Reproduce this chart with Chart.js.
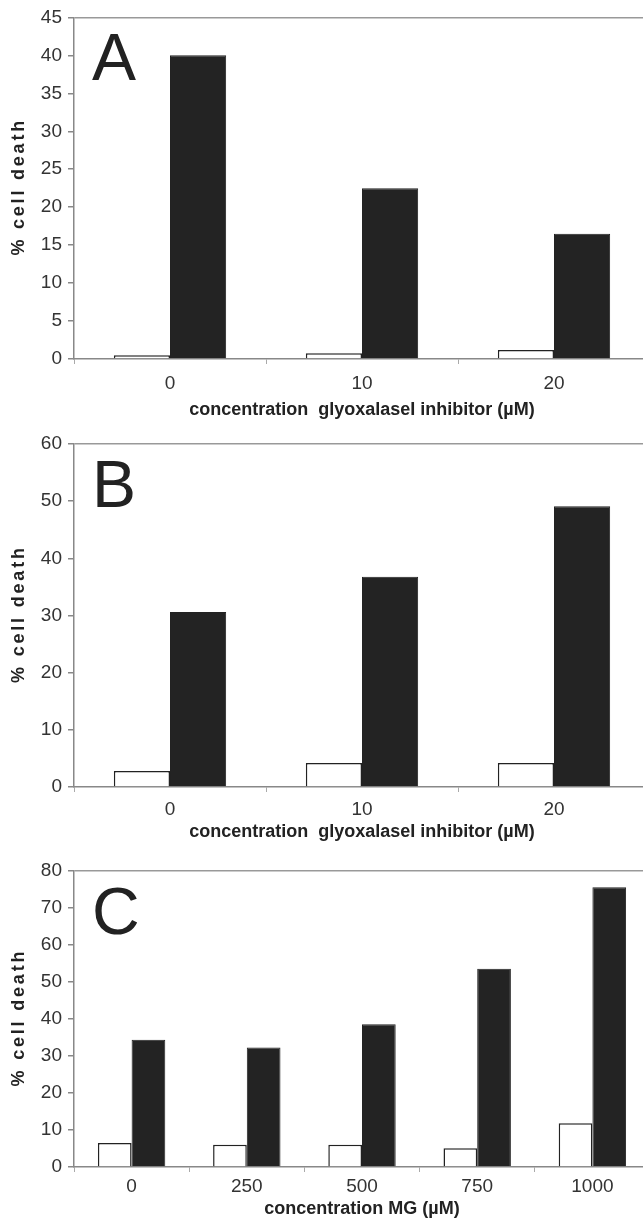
<!DOCTYPE html>
<html lang="en">
<head>
<meta charset="UTF-8">
<title>% cell death</title>
<script src="https://cdn.jsdelivr.net/npm/chart.js"></script>
<style>
    body { margin: 0; background: #fff; }
    #page { width: 643px; height: 1219px; overflow: hidden; }
    canvas { display: block; }
</style>
</head>
<body>
<div id="page">
    <canvas id="chartA" width="652" height="422"></canvas>
    <canvas id="chartB" width="652" height="424"></canvas>
    <canvas id="chartC" width="652" height="373"></canvas>
</div>
<script>
// Panel A
const doseA = ['0', '10', '20'];
const controlA = [0.5, 0.75, 1.2];
const treatedA = [40, 22.5, 16.5];

// Panel B
const doseB = ['0', '10', '20'];
const controlB = [2.8, 4.2, 4.2];
const treatedB = [30.6, 36.8, 49.1];

// Panel C
const doseC = ['0', '250', '500', '750', '1000'];
const controlC = [6.5, 6.0, 6.0, 5.1, 11.8];
const treatedC = [34.4, 32.3, 38.6, 53.6, 75.6];

const yTitle = '% cell death';
const xTitleGlo = 'concentration  glyoxalaseI inhibitor (µM)';
const xTitleMG = 'concentration MG (µM)';

const FONT = '"Liberation Sans", Arial, sans-serif';
Chart.defaults.font.family = FONT;

// panel letter + letter-spaced y title
const panelDecor = {
    id: 'panelDecor',
    afterDraw(chart, args, opts) {
        const {ctx, chartArea} = chart;
        ctx.save();
        ctx.fillStyle = '#222';
        ctx.font = '66px ' + FONT;
        ctx.textAlign = 'left';
        ctx.textBaseline = 'alphabetic';
        ctx.fillText(opts.letter, chartArea.left + 18, chartArea.top + 63);

        ctx.translate(18.7, (chartArea.top + chartArea.bottom) / 2);
        ctx.rotate(-Math.PI / 2);
        ctx.font = 'bold 18px ' + FONT;
        ctx.letterSpacing = '2.8px';
        ctx.textAlign = 'center';
        ctx.textBaseline = 'middle';
        ctx.fillText(opts.yTitle, 1.4, 0);
        ctx.restore();
    }
};

function makePanel(id, labels, control, treated, yMax, yStep, letter, xTitle, top, xHeight, tickPad, titlePad) {
    return new Chart(document.getElementById(id), {
        type: 'bar',
        data: {
            labels: labels,
            datasets: [{
                label: 'control',
                data: control,
                backgroundColor: '#ffffff',
                borderColor: '#222222',
                borderWidth: 1.5,
                categoryPercentage: 0.585,
                barPercentage: 1
            }, {
                label: 'treated',
                data: treated,
                backgroundColor: '#232323',
                borderColor: '#222222',
                borderWidth: 1,
                categoryPercentage: 0.585,
                barPercentage: 1
            }]
        },
        options: {
            responsive: false,
            animation: false,
            devicePixelRatio: 1,
            layout: { padding: { top: top, right: 2, left: 0, bottom: 0 } },
            plugins: {
                legend: { display: false },
                tooltip: { enabled: false },
                panelDecor: { letter: letter, yTitle: yTitle }
            },
            scales: {
                x: {
                    grid: { drawOnChartArea: false, offset: true, tickLength: 5, tickColor: '#aaa' },
                    border: { color: '#888', width: 1.5 },
                    ticks: { color: '#333', font: { size: 19 }, padding: tickPad, maxRotation: 0 },
                    title: {
                        display: true,
                        text: xTitle,
                        color: '#222',
                        font: { size: 18, weight: 'bold' },
                        padding: { top: 0, bottom: titlePad }
                    },
                    afterFit(scale) { scale.height = xHeight; }
                },
                y: {
                    min: 0,
                    max: yMax,
                    grid: {
                        color: c => (c.tick && c.tick.value === yMax) ? '#999' : 'rgba(0,0,0,0)',
                        lineWidth: 1.5,
                        tickLength: 6,
                        tickColor: '#888'
                    },
                    border: { color: '#888', width: 1.5 },
                    ticks: { stepSize: yStep, color: '#333', font: { size: 19 }, padding: 6 },
                    afterFit(scale) { scale.width = 74; }
                }
            }
        },
        plugins: [panelDecor]
    });
}

makePanel('chartA', doseA, controlA, treatedA, 45, 5, 'A', xTitleGlo, 17, 63, 8, 1.5);
makePanel('chartB', doseB, controlB, treatedB, 60, 10, 'B', xTitleGlo, 22, 59, 6, 3);
makePanel('chartC', doseC, controlC, treatedC, 80, 10, 'C', xTitleMG, 25, 52, 3, -1);
</script>
</body>
</html>
